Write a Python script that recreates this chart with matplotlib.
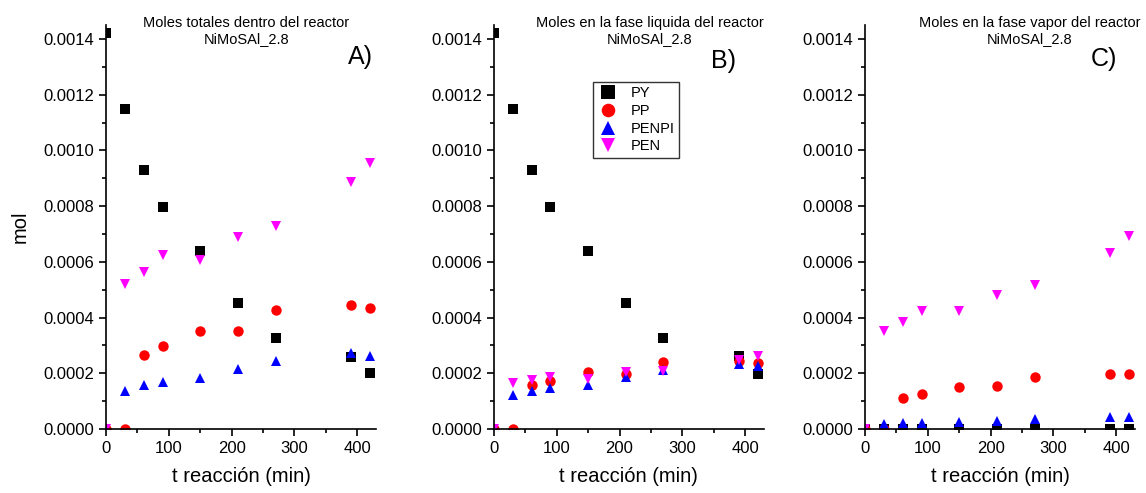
import matplotlib
matplotlib.use("Agg")
from matplotlib import pyplot as plt
from matplotlib.ticker import MultipleLocator

plt.rcParams['font.family'] = ['Liberation Sans', 'DejaVu Sans']

t = [0, 30, 60, 90, 150, 210, 270, 390, 420]
series = ["PY", "PP", "PENPI", "PEN"]

# A) total moles
total_py = [0.00142, 0.001148, 0.00093, 0.000796, 0.000639, 0.000454, 0.000325, 0.000259, 0.000202]
total_pp = [0, 0, 0.000265, 0.000298, 0.000353, 0.000353, 0.000426, 0.000444, 0.000436]
total_penpi = [0, 0.000137, 0.000158, 0.000167, 0.000184, 0.000215, 0.000243, 0.000273, 0.000263]
total_pen = [0, 0.000519, 0.000563, 0.000625, 0.000605, 0.000689, 0.000727, 0.000886, 0.000955]

# B) liquid phase
liq_py = [0.00142, 0.001148, 0.00093, 0.000796, 0.000639, 0.000454, 0.000325, 0.000261, 0.000199]
liq_pp = [0, 0, 0.000158, 0.000172, 0.000203, 0.000199, 0.000239, 0.000245, 0.000237]
liq_penpi = [0, 0.000122, 0.000136, 0.000146, 0.000158, 0.000187, 0.000211, 0.000233, 0.000226]
liq_pen = [0, 0.000164, 0.000175, 0.000187, 0.000179, 0.000203, 0.000209, 0.000247, 0.000262]

# C) vapour phase
vap_py = [0, 0, 0, 0, 0, 0, 0, 0, 0]
vap_pp = [0, 0, 0.00011, 0.000125, 0.000152, 0.000154, 0.000187, 0.000199, 0.000199]
vap_penpi = [0, 0.000018, 0.00002, 0.000022, 0.000025, 0.00003, 0.000035, 0.000042, 0.000042]
vap_pen = [0, 0.000351, 0.000384, 0.000423, 0.000423, 0.00048, 0.000516, 0.000633, 0.000692]

titles = ["Moles totales dentro del reactor\nNiMoSAl_2.8",
          "Moles en la fase liquida del reactor\nNiMoSAl_2.8",
          "Moles en la fase vapor del reactor\nNiMoSAl_2.8"]
letters = ["A)", "B)", "C)"]
data = [[total_py, total_pp, total_penpi, total_pen],
        [liq_py, liq_pp, liq_penpi, liq_pen],
        [vap_py, vap_pp, vap_penpi, vap_pen]]

markers = ["s", "o", "^", "v"]
colors = ["black", "#ff0000", "#0000ff", "#ff00ff"]

fig = plt.figure(figsize=(11.46, 4.93), dpi=100)
lefts = [0.0925, 0.431, 0.7548]
title_x = [0.519, 0.576, 0.611]
letter_pos = [(0.99, 0.92), (0.895, 0.91), (0.935, 0.915)]

for i in range(3):
    ax = fig.add_axes([lefts[i], 0.1298, 0.2356, 0.8195])
    for vals, m, c, name in zip(data[i], markers, colors, series):
        ax.plot(t, vals, linestyle="none", marker=m, color=c, markersize=7.5,
                markeredgewidth=0, label=name)
    ax.set_xlim(0, 430)
    ax.set_ylim(0, 0.00145)
    ax.spines["top"].set_visible(False)
    ax.spines["right"].set_visible(False)
    ax.spines["left"].set_linewidth(1.2)
    ax.spines["bottom"].set_linewidth(1.2)
    ax.xaxis.set_major_locator(MultipleLocator(100))
    ax.xaxis.set_minor_locator(MultipleLocator(50))
    ax.yaxis.set_major_locator(MultipleLocator(0.0002))
    ax.yaxis.set_minor_locator(MultipleLocator(0.0001))
    ax.yaxis.set_major_formatter(plt.FuncFormatter(lambda v, p: "%.4f" % v))
    ax.tick_params(which="major", direction="out", length=5, width=1.2, labelsize=12)
    ax.tick_params(which="minor", direction="out", length=3, width=1.2)
    ax.set_xlabel("t reacción (min)", fontsize=14.5, labelpad=8)
    ax.text(title_x[i], 0.985, titles[i], transform=ax.transAxes, ha="center",
            va="center", fontsize=10.5, linespacing=1.15)
    ax.text(letter_pos[i][0], letter_pos[i][1], letters[i], transform=ax.transAxes,
            ha="right", va="center", fontsize=18)
    if i == 0:
        ax.set_ylabel("mol", fontsize=14.5, labelpad=10)
    if i == 1:
        ax.legend(loc="upper left", bbox_to_anchor=(0.34, 0.877), fontsize=10.5,
                  frameon=True, fancybox=False, edgecolor="black",
                  handletextpad=0.8, borderpad=0.3, labelspacing=0.25,
                  handlelength=1.5, markerscale=1.3)

fig.savefig("out.png", dpi=100)
